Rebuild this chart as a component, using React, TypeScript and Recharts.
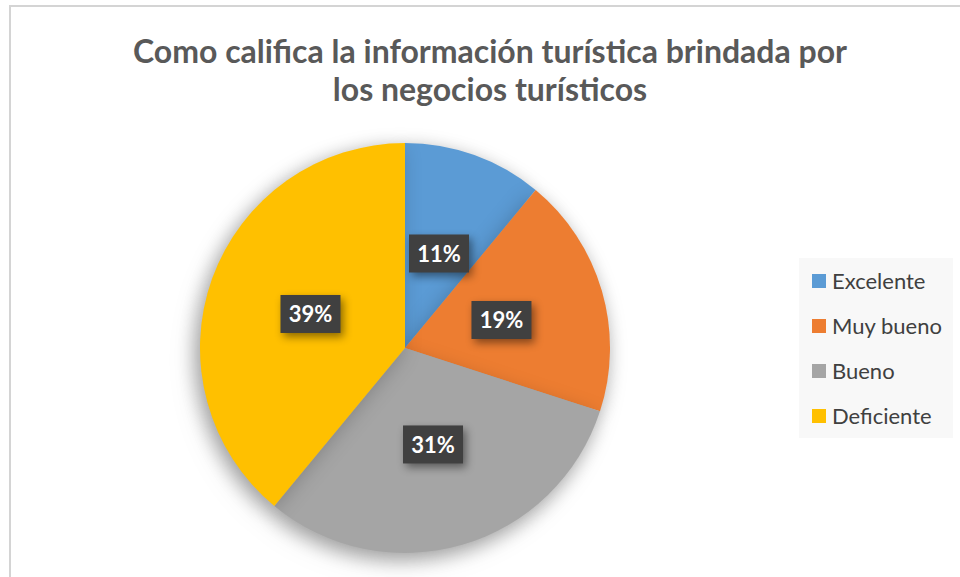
import { Cell, Legend, Pie, PieChart } from "recharts";

const TITLE_LINES = [
  "Como califica la información turística brindada por",
  "los negocios turísticos",
];
const CATEGORIES = ["Excelente", "Muy bueno", "Bueno", "Deficiente"];
const VALUES = [11, 19, 31, 39];
const COLORS = ["#5B9BD5", "#ED7D31", "#A5A5A5", "#FFC000"];

const data = CATEGORIES.map((name, i) => ({ name, value: VALUES[i] }));

const RADIAN = Math.PI / 180;
const FONT = "Lato, 'Open Sans', sans-serif";

const renderLabel = (props: any) => {
  const { cx, cy, midAngle, outerRadius, percent } = props;
  const r = outerRadius * 0.49;
  const x = cx + r * Math.cos(-midAngle * RADIAN);
  const y = cy + r * Math.sin(-midAngle * RADIAN);
  const w = 60;
  const h = 38;
  return (
    <g>
      <rect
        x={x - w / 2}
        y={y - h / 2}
        width={w}
        height={h}
        fill="#404040"
        style={{ filter: "drop-shadow(3px 4px 4px rgba(0,0,0,0.45))" }}
      />
      <text
        x={x}
        y={y}
        fill="#ffffff"
        textAnchor="middle"
        dominantBaseline="central"
        fontFamily={FONT}
        fontWeight={700}
        fontSize={22}
      >
        {`${Math.round(percent * 100)}%`}
      </text>
    </g>
  );
};

// keep the series order (Recharts sorts legend items by default)
const renderLegend = () => (
  <ul
    style={{
      listStyle: "none",
      margin: 0,
      padding: "0 0 0 13px",
      background: "#f8f8f8",
      width: 154,
      height: 180,
      boxSizing: "border-box",
    }}
  >
    {CATEGORIES.map((name, index) => (
      <li
        key={`item-${index}`}
        style={{
          display: "flex",
          alignItems: "center",
          height: 45,
          fontFamily: FONT,
          fontSize: 22,
          color: "#404040",
          whiteSpace: "nowrap",
        }}
      >
        <span
          style={{
            width: 14,
            height: 14,
            background: COLORS[index],
            marginRight: 6,
            display: "inline-block",
            flex: "none",
          }}
        />
        {name}
      </li>
    ))}
  </ul>
);

export default function App() {
  return (
    <div
      style={{
        position: "fixed",
        left: 0,
        top: 0,
        width: 960,
        height: 577,
        overflow: "hidden",
        background: "#ffffff",
      }}
    >
      <style>{`.main-pie { filter: drop-shadow(-4px 6px 10px rgba(0,0,0,0.22)); }`}</style>
      <div
        style={{
          position: "absolute",
          left: 9,
          top: 5,
          width: 1000,
          height: 640,
          border: "2px solid #d4d4d4",
        }}
      />
      <div
        style={{
          position: "absolute",
          left: 0,
          top: 32,
          width: 980,
          textAlign: "center",
          fontFamily: FONT,
          fontWeight: 700,
          fontSize: 32,
          lineHeight: "38px",
          color: "#595959",
        }}
      >
        {TITLE_LINES.map((line) => (
          <div key={line}>{line}</div>
        ))}
      </div>
      <div style={{ position: "absolute", left: 0, top: 0 }}>
        <PieChart
          width={960}
          height={577}
          margin={{ top: 0, right: 0, bottom: 0, left: 0 }}
        >
          <Legend
            layout="vertical"
            align="right"
            verticalAlign="middle"
            content={renderLegend}
            wrapperStyle={{ left: 799, top: 258, right: "auto", width: 154 }}
          />
          <Pie
            data={data}
            dataKey="value"
            nameKey="name"
            cx={405}
            cy={348}
            outerRadius={205}
            startAngle={90}
            endAngle={-270}
            stroke="none"
            className="main-pie"
            label={renderLabel}
            labelLine={false}
            isAnimationActive={false}
          >
            {data.map((_entry, index) => (
              <Cell key={`cell-${index}`} fill={COLORS[index]} />
            ))}
          </Pie>
        </PieChart>
      </div>
    </div>
  );
}
